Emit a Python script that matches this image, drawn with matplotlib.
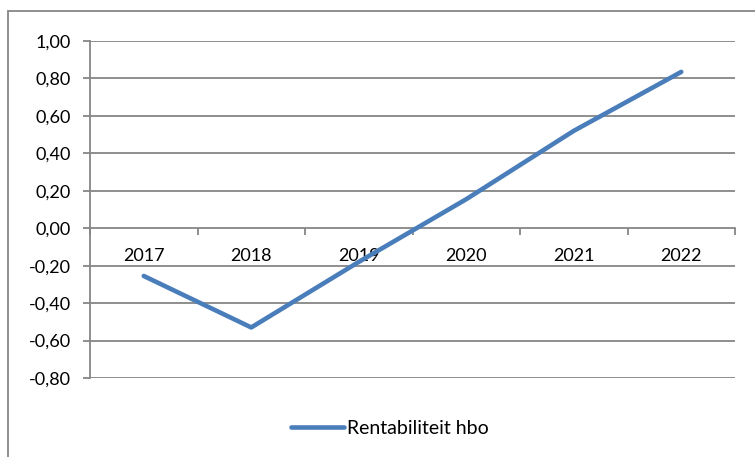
import numpy as np
import matplotlib.pyplot as plt
from matplotlib.patches import Rectangle
from matplotlib.ticker import FixedLocator

# data
years = ['2017', '2018', '2019', '2020', '2021', '2022']
rentabiliteit = [-0.255, -0.53, -0.18, 0.155, 0.52, 0.835]
yticks = [-0.8, -0.6, -0.4, -0.2, 0.0, 0.2, 0.4, 0.6, 0.8, 1.0]

plt.rcParams['font.family'] = ['Lato', 'DejaVu Sans']

W, H = 755, 457
fig = plt.figure(figsize=(W / 100, H / 100), dpi=100)
ax = fig.add_axes([90 / W, 1 - 378 / H, 645 / W, 337 / H])

grey = '#868686'
x = np.arange(len(years))

for v in yticks:
    if v != 0:
        ax.axhline(v, color=grey, lw=1.3, zorder=1)

ax.plot(x, rentabiliteit, color='#4A7EBB', lw=3.3, solid_capstyle='round',
        solid_joinstyle='round', zorder=3, label='Rentabiliteit hbo')

ax.set_xlim(-0.5, len(years) - 0.5)
ax.set_ylim(-0.8, 1.0)

ax.spines['top'].set_visible(False)
ax.spines['right'].set_visible(False)
ax.spines['left'].set_color(grey)
ax.spines['left'].set_linewidth(1.3)
ax.spines['bottom'].set_color(grey)
ax.spines['bottom'].set_linewidth(1.3)
ax.spines['bottom'].set_position(('data', 0))
ax.spines['bottom'].set_zorder(1)

ax.set_yticks(yticks)
ax.set_yticklabels([f'{v:.2f}'.replace('.', ',') for v in yticks])
ax.tick_params(axis='y', direction='out', length=5, width=1.3, color=grey,
               pad=9, labelsize=13)

ax.set_xticks(x)
ax.set_xticklabels(years)
ax.xaxis.set_minor_locator(FixedLocator(np.arange(len(years) + 1) - 0.5))
ax.tick_params(axis='x', which='major', length=0, pad=14, labelsize=13)
ax.tick_params(axis='x', which='minor', direction='out', length=5, width=1.3,
               color=grey)

# outer chart border
fig.patches.append(Rectangle((8 / W, -0.1), 1.2, 1 - 11 / H + 0.1,
                             transform=fig.transFigure, fill=False,
                             edgecolor=grey, lw=1.3))

fig.legend(loc='center', bbox_to_anchor=(390 / W, 1 - 428 / H), frameon=False,
           fontsize=14, handlelength=2.75, handletextpad=0.15)

fig.savefig('out.png', dpi=100)
